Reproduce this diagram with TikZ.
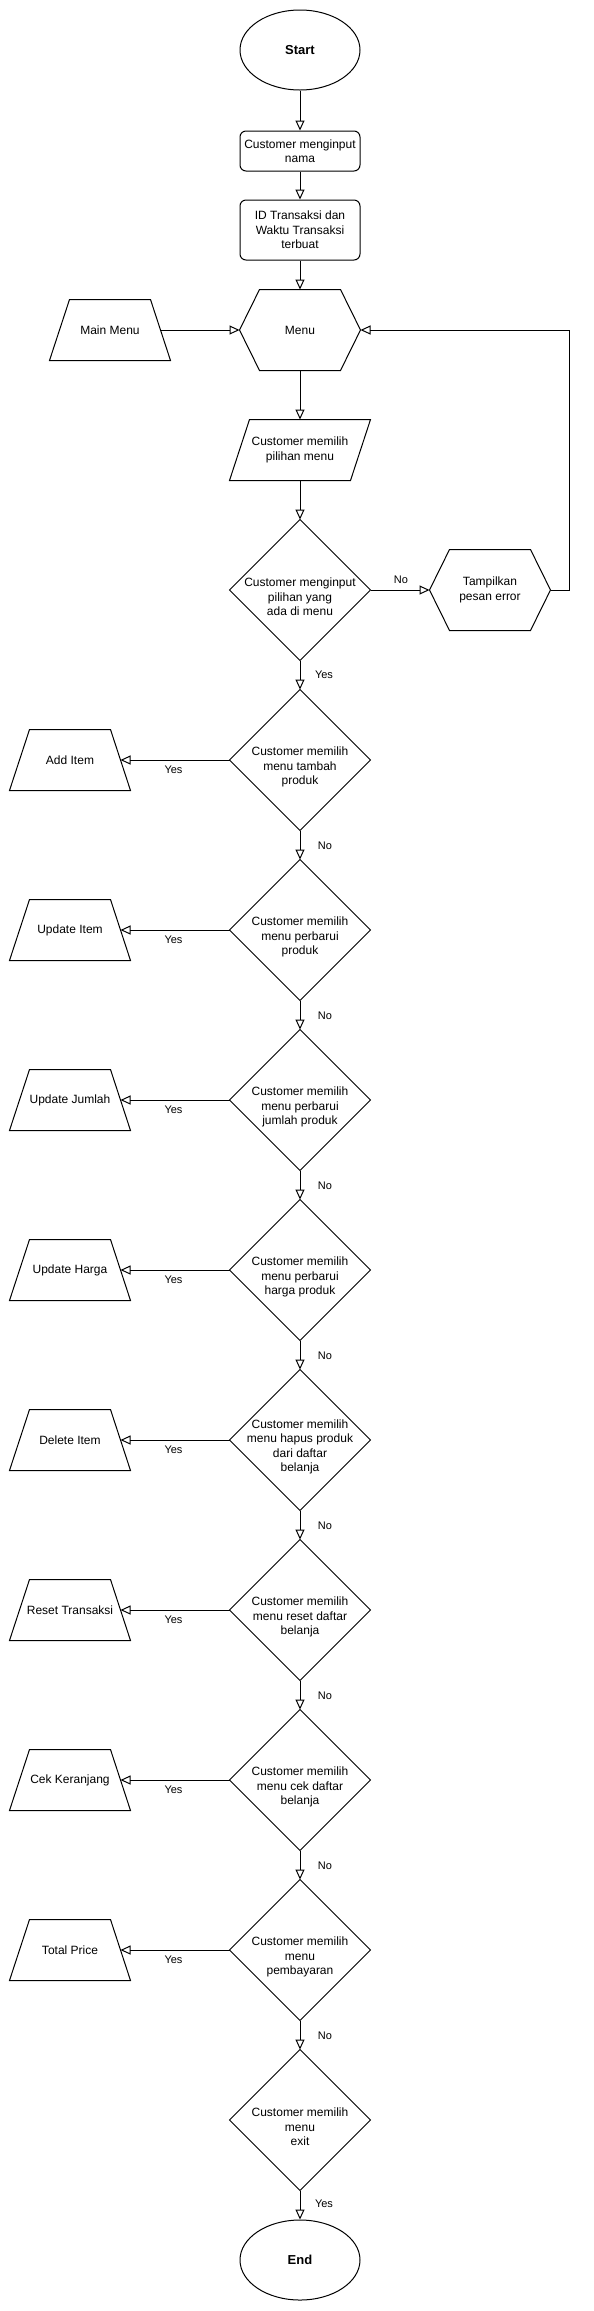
\documentclass[tikz,border=0pt]{standalone}
\usepackage{fontspec}
\setmainfont{Liberation Sans}
\usetikzlibrary{arrows.meta,shapes.geometric,calc}
\begin{document}
\begin{tikzpicture}[x=1pt,y=-1pt, line width=1pt,
  box/.style={rectangle, minimum width=120pt, inner sep=0pt, align=center, font=\fontsize{12}{14.4}\selectfont},
  term/.style={ellipse, draw, minimum width=120pt, minimum height=80pt, inner sep=0pt, font=\fontsize{13}{15}\selectfont\bfseries},
  proc/.style={box, draw, rounded corners=6pt},
  dia/.style={box, minimum width=140pt, minimum height=140pt},
  trap/.style={box, minimum height=60pt},
  flow/.style={draw, -{Triangle[open,length=10pt,width=9pt]}},
  lbl/.style={font=\fontsize{11}{13}\selectfont, inner sep=0pt},
  dtext/.style={align=center, inner sep=0pt, font=\fontsize{12}{14.4}\selectfont}
]
\useasboundingbox (0,0) rectangle (594,2311);
\fill[white] (0,0) rectangle (594,2311);

% top part
\node[term] (start) at (300,50) {Start};
\node[proc, minimum height=40pt] (inp) at (300,151) {Customer menginput\\nama};
\node[proc, minimum height=60pt] (id) at (300,230) {ID Transaksi dan\\Waktu Transaksi\\terbuat};
\node[box, minimum height=80pt] (menu) at (300,330) {Menu};
\draw (menu.west) -- ([xshift=20pt]menu.north west) -- ([xshift=-20pt]menu.north east) -- (menu.east) -- ([xshift=-20pt]menu.south east) -- ([xshift=20pt]menu.south west) -- cycle;
\node[trap] (mm) at (110,330) {Main Menu};
\draw (mm.south west) -- ([xshift=20pt]mm.north west) -- ([xshift=-20pt]mm.north east) -- (mm.south east) -- cycle;
\node[box, minimum width=140pt, minimum height=60pt] (pm) at (300,450) {Customer memilih\\pilihan menu};
\draw (pm.south west) -- ([xshift=20pt]pm.north west) -- (pm.north east) -- ([xshift=-20pt]pm.south east) -- cycle;
\node[box, minimum height=80pt] (err) at (490,590) {Tampilkan\\pesan error};
\draw (err.west) -- ([xshift=20pt]err.north west) -- ([xshift=-20pt]err.north east) -- (err.east) -- ([xshift=-20pt]err.south east) -- ([xshift=20pt]err.south west) -- cycle;

% diamonds
\node[dia] (c0) at (300,590) {};
\node[dtext] at ([yshift=-7pt]c0.center) {Customer menginput\\pilihan yang\\ada di menu};
\node[dia] (c1) at (300,760) {};
\node[dtext] at ([yshift=-7pt]c1.center) {Customer memilih\\menu tambah\\produk};
\node[dia] (c2) at (300,930) {};
\node[dtext] at ([yshift=-7pt]c2.center) {Customer memilih\\menu perbarui\\produk};
\node[dia] (c3) at (300,1100) {};
\node[dtext] at ([yshift=-7pt]c3.center) {Customer memilih\\menu perbarui\\jumlah produk};
\node[dia] (c4) at (300,1270) {};
\node[dtext] at ([yshift=-7pt]c4.center) {Customer memilih\\menu perbarui\\harga produk};
\node[dia] (c5) at (300,1440) {};
\node[dtext] at ([yshift=-7pt]c5.center) {Customer memilih\\menu hapus produk\\dari daftar\\belanja};
\node[dia] (c6) at (300,1610) {};
\node[dtext] at ([yshift=-7pt]c6.center) {Customer memilih\\menu reset daftar\\belanja};
\node[dia] (c7) at (300,1780) {};
\node[dtext] at ([yshift=-7pt]c7.center) {Customer memilih\\menu cek daftar\\belanja};
\node[dia] (c8) at (300,1950) {};
\node[dtext] at ([yshift=-7pt]c8.center) {Customer memilih\\menu\\pembayaran};
\node[dia] (c9) at (300,2120) {};
\node[dtext] at ([yshift=-7pt]c9.center) {Customer memilih\\menu\\exit};
\foreach \c in {c0,c1,c2,c3,c4,c5,c6,c7,c8,c9}
  \draw (\c.north) -- (\c.east) -- (\c.south) -- (\c.west) -- cycle;

% left trapezoids
\node[trap] (t1) at (70,760) {Add Item};
\node[trap] (t2) at (70,930) {Update Item};
\node[trap] (t3) at (70,1100) {Update Jumlah};
\node[trap] (t4) at (70,1270) {Update Harga};
\node[trap] (t5) at (70,1440) {Delete Item};
\node[trap] (t6) at (70,1610) {Reset Transaksi};
\node[trap] (t7) at (70,1780) {Cek Keranjang};
\node[trap] (t8) at (70,1950) {Total Price};
\foreach \t in {t1,t2,t3,t4,t5,t6,t7,t8}
  \draw (\t.south west) -- ([xshift=20pt]\t.north west) -- ([xshift=-20pt]\t.north east) -- (\t.south east) -- cycle;

\node[term] (end) at (300,2260) {End};

% connectors
\draw[flow] (start.south) -- (inp.north);
\draw[flow] (inp.south) -- (id.north);
\draw[flow] (id.south) -- (menu.north);
\draw[flow] ([xshift=-10pt]mm.east) -- (menu.west);
\draw[flow] (menu.south) -- (pm.north);
\draw[flow] (pm.south) -- (c0.north);
\draw[flow] (c0.east) -- (err.west);
\node[lbl] at (401,580) {No};
\coordinate (loop) at (569,330);
\draw[flow] (err.east) -| (loop) -- (menu.east);
\draw[flow] (c0.south) -- (c1.north);
\node[lbl] at (324,675) {Yes};

\foreach \i/\j in {1/2,2/3,3/4,4/5,5/6,6/7,7/8,8/9} {
  \draw[flow] (c\i.south) -- (c\j.north);
  \node[lbl] at ($(c\i.south)+(25,15)$) {No};
  \draw[flow] (c\i.west) -- ([xshift=-10pt]t\i.east);
  \node[lbl] at ($(c\i.west)+(-56,10)$) {Yes};
}
\draw[flow] (c9.south) -- (end.north);
\node[lbl] at ($(c9.south)+(24,13)$) {Yes};
\end{tikzpicture}
\end{document}
